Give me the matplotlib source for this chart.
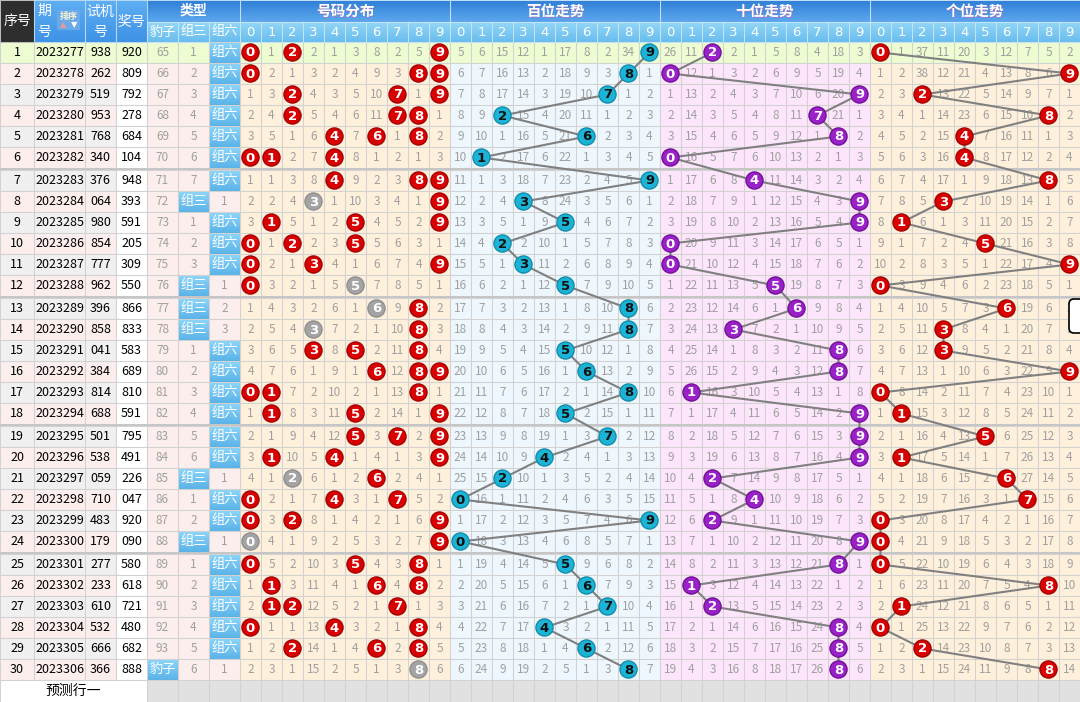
import matplotlib
matplotlib.use("Agg")
from matplotlib import pyplot as plt
from matplotlib.patches import Rectangle, Circle, FancyBboxPatch
from matplotlib.colors import to_rgb
import numpy as np

plt.rcParams['font.family'] = ['Noto Sans CJK SC', 'DejaVu Sans']

# ---- data ----
ISSUES = ["2023277", "2023278", "2023279", "2023280", "2023281", "2023282",
          "2023283", "2023284", "2023285", "2023286", "2023287", "2023288",
          "2023289", "2023290", "2023291", "2023292", "2023293", "2023294",
          "2023295", "2023296", "2023297", "2023298", "2023299", "2023300",
          "2023301", "2023302", "2023303", "2023304", "2023305", "2023306"]
TEST_NUMS = ["938", "262", "519", "953", "768", "340", "376", "064", "980",
             "854", "777", "962", "396", "858", "041", "384", "814", "688",
             "501", "538", "059", "710", "483", "179", "277", "233", "610",
             "532", "666", "366"]
DRAWS = ["920", "809", "792", "278", "684", "104", "948", "393", "591",
         "205", "309", "550", "866", "833", "583", "689", "810", "591",
         "795", "491", "226", "047", "920", "090", "580", "618", "721",
         "480", "682", "888"]

# omission counts shown in the first row (0 = hit)
DIST_FIRST = [0, 1, 0, 2, 1, 3, 8, 2, 5, 0]
HUNDREDS_FIRST = [5, 6, 15, 12, 1, 17, 8, 2, 34, 0]
TENS_FIRST = [26, 11, 0, 2, 1, 5, 8, 4, 18, 3]
UNITS_FIRST = [0, 1, 37, 11, 20, 3, 12, 7, 5, 2]
LEOPARD_FIRST = 65
PAIR_FIRST = 1

SECTION_TITLES = ["号码分布", "百位走势", "十位走势", "个位走势"]
TYPE_LABELS = ["豹子", "组三", "组六"]

# ---- layout (pixels) ----
W, H = 1080, 702
LEFT_EDGES = [0, 34, 85, 116, 147, 178, 209, 240]
DIGIT_W = 21
ROW_H = 21
HEAD1, HEAD2 = 22, 42
GRID = "#d2d2d2"

SECTION_BG = ["#fff0dc", "#eef7fd", "#fde6fb", "#fff0dc"]
GREEN = "#eefcd2"
PINK = "#fdeeee"
GRAY_BG = "#f0f0f0"


def row_top(i):
    return HEAD2 + ROW_H * i + 2 * (i // 6)


def omissions(first, hit):
    rows = []
    for i, draw in enumerate(DRAWS):
        row = []
        for d in range(10):
            if hit(draw, d):
                row.append(0)
            elif i == 0:
                row.append(first[d])
            else:
                row.append(rows[-1][d] + 1)
        rows.append(row)
    return rows


def gradient(ax, x0, x1, y0, y1, c_top, c_bot, z=1):
    t = np.linspace(0, 1, 32)[:, None, None]
    img = (1 - t) * np.array(to_rgb(c_top)) + t * np.array(to_rgb(c_bot))
    ax.imshow(img, extent=[x0, x1, y1, y0], aspect="auto", zorder=z,
              interpolation="bilinear")


def cell(ax, x0, x1, y0, y1, color, edge=GRID, z=1):
    ax.add_patch(Rectangle((x0, y0), x1 - x0, y1 - y0, facecolor=color,
                           edgecolor=edge, linewidth=0.75, zorder=z))


def ball(ax, x, y, digit, face, edge, txt):
    ax.add_patch(Circle((x, y), 8.6, facecolor=face, edgecolor=edge,
                        linewidth=0.9, zorder=5))
    ax.text(x, y + 0.5, str(digit), ha="center", va="center", color=txt,
            fontsize=9.5, fontweight="bold", zorder=6, family="DejaVu Sans")


dist = omissions(DIST_FIRST, lambda s, d: str(d) in s)
pos_rows = [omissions(HUNDREDS_FIRST, lambda s, d: int(s[0]) == d),
            omissions(TENS_FIRST, lambda s, d: int(s[1]) == d),
            omissions(UNITS_FIRST, lambda s, d: int(s[2]) == d)]

fig = plt.figure(figsize=(W / 100, H / 100), dpi=100)
ax = fig.add_axes([0, 0, 1, 1])
ax.axis("off")

# ---- header ----
cell(ax, 0, 34, 0, HEAD2, "#2e2e2e", edge="#bcbcbc", z=2)
ax.text(17, 21, "序号", ha="center", va="center", color="white", fontsize=10, zorder=3)
for x0, x1 in [(34, 85), (85, 116), (116, 147)]:
    gradient(ax, x0, x1, 0, HEAD2, "#5eaef3", "#3f93e6")
    ax.add_patch(Rectangle((x0, 0), x1 - x0, HEAD2, fill=False,
                           edgecolor="#b8d8f2", linewidth=0.75, zorder=2))
ax.text(44, 11, "期", ha="center", va="center", color="white", fontsize=10, zorder=3)
ax.text(44, 32, "号", ha="center", va="center", color="white", fontsize=10, zorder=3)
ax.add_patch(Rectangle((57, 10), 23, 20, facecolor="#6aaaea", edgecolor="none", zorder=2))
ax.text(68.5, 16, "排序", ha="center", va="center", color="#fff6d0", fontsize=6.5,
        fontweight="bold", zorder=3)
ax.text(63, 25, "▲", ha="center", va="center", color="#e89a9a", fontsize=6, zorder=3,
        family="DejaVu Sans")
ax.text(74, 25, "▼", ha="center", va="center", color="white", fontsize=6, zorder=3,
        family="DejaVu Sans")
ax.text(100.5, 12, "试机", ha="center", va="center", color="white", fontsize=10, zorder=3)
ax.text(100.5, 32, "号", ha="center", va="center", color="white", fontsize=10, zorder=3)
ax.text(131.5, 22, "奖号", ha="center", va="center", color="white", fontsize=10, zorder=3)

gradient(ax, 147, W, 0, HEAD1, "#2f7fd6", "#5ca7ee")
gradient(ax, 147, W, HEAD1, HEAD2, "#93d7f6", "#69bdee")
ax.add_patch(Rectangle((147, 0), 93, HEAD1, fill=False, edgecolor="#b8d8f2",
                       linewidth=0.75, zorder=2))
ax.text(193.5, 11, "类型", ha="center", va="center", color="white", fontsize=10,
        fontweight="bold", zorder=3)
for k, lab in enumerate(TYPE_LABELS):
    x0 = LEFT_EDGES[4 + k]
    ax.add_patch(Rectangle((x0, HEAD1), 31, HEAD2 - HEAD1, fill=False,
                           edgecolor="#c4e4f6", linewidth=0.75, zorder=2))
    ax.text(x0 + 15.5, 32, lab, ha="center", va="center", color="white",
            fontsize=9.5, zorder=3)
for s, title in enumerate(SECTION_TITLES):
    sx = 240 + 210 * s
    ax.add_patch(Rectangle((sx, 0), 210, HEAD1, fill=False, edgecolor="#c4e0f6",
                           linewidth=0.75, zorder=2))
    ax.text(sx + 105 + 0.8, 11.8, title, ha="center", va="center", color="#c46ab0",
            fontsize=10.5, fontweight="bold", zorder=3, alpha=0.6)
    ax.text(sx + 105, 11, title, ha="center", va="center", color="white",
            fontsize=10.5, fontweight="bold", zorder=3)
    for d in range(10):
        x0 = sx + DIGIT_W * d
        ax.add_patch(Rectangle((x0, HEAD1), DIGIT_W, HEAD2 - HEAD1, fill=False,
                               edgecolor="#c4e4f6", linewidth=0.75, zorder=2))
        ax.text(x0 + 10.5, 32, str(d), ha="center", va="center", color="white",
                fontsize=9.5, zorder=3, family="DejaVu Sans")

# ---- body ----
leopard = LEOPARD_FIRST - 1
pair = PAIR_FIRST - 1
six = 0
centers = [[], [], []]
for i, draw in enumerate(DRAWS):
    y0 = row_top(i)
    y1 = y0 + ROW_H
    yc = y0 + ROW_H / 2
    first = i == 0
    side = GREEN if first else (PINK if i % 2 == 1 else GRAY_BG)
    cell(ax, 0, 34, y0, y1, side)
    cell(ax, 34, 85, y0, y1, side)
    cell(ax, 85, 116, y0, y1, side)
    cell(ax, 116, 147, y0, y1, GREEN if first else "white")
    ax.text(17, yc, str(i + 1), ha="center", va="center", fontsize=9, zorder=3)
    ax.text(59.5, yc, ISSUES[i], ha="center", va="center", fontsize=9, zorder=3)
    ax.text(100.5, yc, TEST_NUMS[i], ha="center", va="center", fontsize=9, zorder=3)
    ax.text(131.5, yc, draw, ha="center", va="center", fontsize=9, zorder=3)

    kinds = len(set(draw))
    leopard = 0 if kinds == 1 else leopard + 1
    pair = 0 if kinds == 2 else pair + 1
    six = 0 if kinds == 3 else six + 1
    for k, val in enumerate([leopard, pair, six]):
        x0 = LEFT_EDGES[4 + k]
        if val == 0:
            gradient(ax, x0, x0 + 31, y0, y1, "#8ed6fa", "#5ab3e8", z=1)
            ax.add_patch(Rectangle((x0, y0), 31, ROW_H, fill=False, edgecolor=GRID,
                                   linewidth=0.75, zorder=2))
            ax.text(x0 + 15.5, yc, TYPE_LABELS[k], ha="center", va="center",
                    color="white", fontsize=9.5, zorder=3)
        else:
            cell(ax, x0, x0 + 31, y0, y1, GREEN if first else PINK)
            ax.text(x0 + 15.5, yc, str(val), ha="center", va="center",
                    color="#a0a0a0", fontsize=8.5, zorder=3)

    # number distribution
    for d in range(10):
        x0 = 240 + DIGIT_W * d
        cell(ax, x0, x0 + DIGIT_W, y0, y1, GREEN if first else SECTION_BG[0])
        if dist[i][d] == 0:
            if draw.count(str(d)) > 1:
                ball(ax, x0 + 10.5, yc, d, "#a4a4a4", "#8c8c8c", "white")
            else:
                ball(ax, x0 + 10.5, yc, d, "#d80000", "#9c0000", "white")
        else:
            ax.text(x0 + 10.5, yc, str(dist[i][d]), ha="center", va="center",
                    color="#a0a0a0", fontsize=8.5, zorder=3)

    # position trends
    styles = [("#1cb4d6", "#0f88a6", "#111111"),
              ("#9a20c8", "#6c0e92", "white"),
              ("#d80000", "#9c0000", "white")]
    for p in range(3):
        sx = 450 + 210 * p
        for d in range(10):
            x0 = sx + DIGIT_W * d
            cell(ax, x0, x0 + DIGIT_W, y0, y1, GREEN if first else SECTION_BG[p + 1])
            if pos_rows[p][i][d] == 0:
                face, edge, txt = styles[p]
                ball(ax, x0 + 10.5, yc, d, face, edge, txt)
                centers[p].append((x0 + 10.5, yc))
            else:
                ax.text(x0 + 10.5, yc, str(pos_rows[p][i][d]), ha="center",
                        va="center", color="#a0a0a0", fontsize=8.5, zorder=3)

for p in range(3):
    xs, ys = zip(*centers[p])
    ax.plot(xs, ys, color="#808080", linewidth=1.5, zorder=4, solid_capstyle="round")

# group separators
for k in range(1, 5):
    y = row_top(6 * k) - 2
    ax.add_patch(Rectangle((0, y), W, 2, facecolor="#c6c6c6", edgecolor="none", zorder=3))

# forecast row
fy0 = row_top(29) + ROW_H
cell(ax, 0, 147, fy0, H, "white")
ax.text(73.5, (fy0 + H) / 2, "预测行一", ha="center", va="center", fontsize=10, zorder=3)
for k in range(3):
    x0 = LEFT_EDGES[4 + k]
    cell(ax, x0, x0 + 31, fy0, H, "#e1e1e1")
for c in range(40):
    x0 = 240 + DIGIT_W * c
    cell(ax, x0, x0 + DIGIT_W, fy0, H, "#e1e1e1")

# popup stub at the right edge
ax.add_patch(FancyBboxPatch((1069, 299), 20, 34, boxstyle="round,pad=0,rounding_size=5",
                            facecolor="white", edgecolor="black", linewidth=1.2, zorder=7))

ax.set_xlim(0, W)
ax.set_ylim(H, 0)
fig.savefig("out.png", dpi=100)
